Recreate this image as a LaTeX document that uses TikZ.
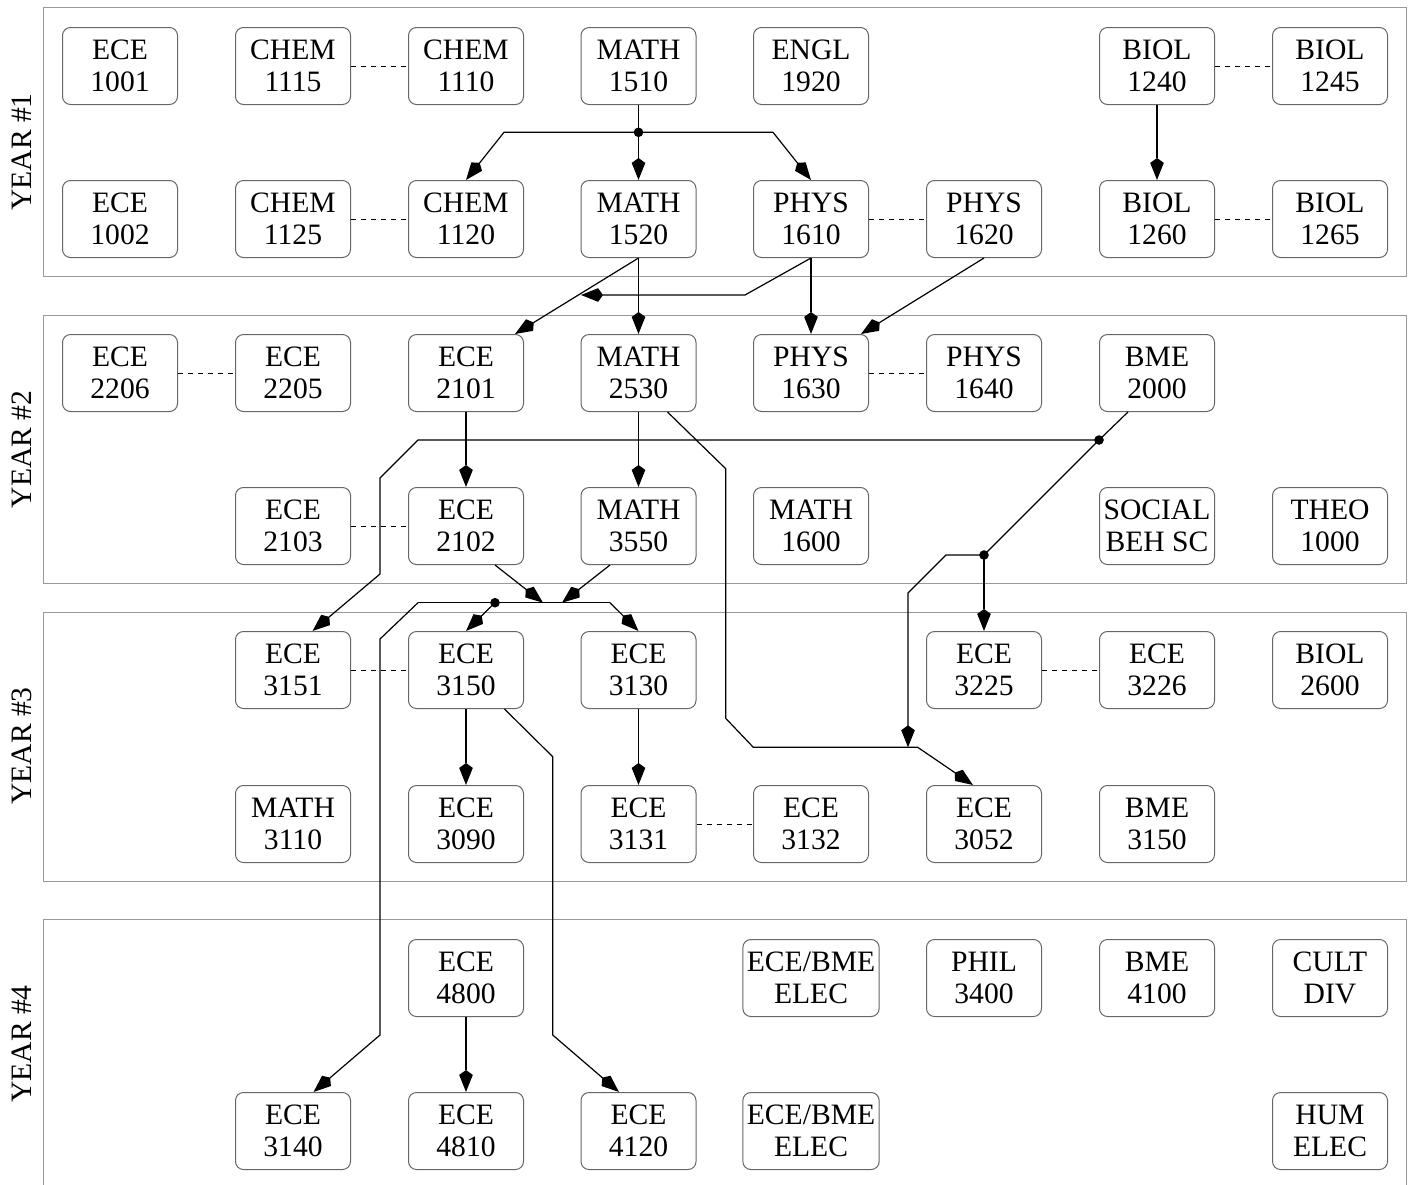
\documentclass[tikz,border=0pt]{standalone}
\usepackage{fontspec}
\setmainfont{Liberation Serif}
\usetikzlibrary{arrows.meta,calc}

\begin{document}
\begin{tikzpicture}[
    x=0.5pt, y=-0.5pt,
    font=\fontsize{14.8}{16.3}\selectfont,
    course/.style={draw=black!60, line width=0.5pt, rounded corners=4pt, align=center,
      minimum width=57.5pt, minimum height=38.5pt, inner sep=2pt},
    yearbox/.style={draw=black!40, line width=0.5pt},
    yearlbl/.style={rotate=90},
    arrow/.style={-{Stealth[length=8.5pt,width=6.5pt,inset=-2.5pt]}, line width=0.6pt},
    wire/.style={line width=0.6pt},
    coreq/.style={dash pattern=on 2.5pt off 2.5pt, line width=0.5pt}
  ]
  \useasboundingbox (0,0) rectangle (1413,1184);

  % Year frames
  \draw[yearbox] (43.3,7.3) rectangle (1406.3,276);
  \draw[yearbox] (43.3,315.3) rectangle (1406.3,583.3);
  \draw[yearbox] (43.3,612) rectangle (1406.3,881.3);
  \draw[yearbox] (43.3,919.3) rectangle (1406.3,1192);

  \node[yearlbl] (lbl1) at (22,152)  {YEAR \#1};
  \node[yearlbl] (lbl2) at (22,449.5) {YEAR \#2};
  \node[yearlbl] (lbl3) at (22,746)  {YEAR \#3};
  \node[yearlbl] (lbl4) at (22,1044) {YEAR \#4};

  % Year 1
  \node[course] (ece1001)  at (120,66)  {ECE\\1001};
  \node[course] (chem1115) at (293,66)  {CHEM\\1115};
  \node[course] (chem1110) at (466,66)  {CHEM\\1110};
  \node[course] (math1510) at (638.5,66) {MATH\\1510};
  \node[course] (engl1920) at (811,66)  {ENGL\\1920};
  \node[course] (biol1240) at (1157,66) {BIOL\\1240};
  \node[course] (biol1245) at (1330,66) {BIOL\\1245};

  \node[course] (ece1002)  at (120,219)  {ECE\\1002};
  \node[course] (chem1125) at (293,219)  {CHEM\\1125};
  \node[course] (chem1120) at (466,219)  {CHEM\\1120};
  \node[course] (math1520) at (638.5,219) {MATH\\1520};
  \node[course] (phys1610) at (811,219)  {PHYS\\1610};
  \node[course] (phys1620) at (984,219)  {PHYS\\1620};
  \node[course] (biol1260) at (1157,219) {BIOL\\1260};
  \node[course] (biol1265) at (1330,219) {BIOL\\1265};

  % Year 2
  \node[course] (ece2206)  at (120,373)  {ECE\\2206};
  \node[course] (ece2205)  at (293,373)  {ECE\\2205};
  \node[course] (ece2101)  at (466,373)  {ECE\\2101};
  \node[course] (math2530) at (638.5,373) {MATH\\2530};
  \node[course] (phys1630) at (811,373)  {PHYS\\1630};
  \node[course] (phys1640) at (984,373)  {PHYS\\1640};
  \node[course] (bme2000)  at (1157,373) {BME\\2000};

  \node[course] (ece2103)  at (293,526)  {ECE\\2103};
  \node[course] (ece2102)  at (466,526)  {ECE\\2102};
  \node[course] (math3550) at (638.5,526) {MATH\\3550};
  \node[course] (math1600) at (811,526)  {MATH\\1600};
  \node[course] (socbeh)   at (1157,526) {SOCIAL\\BEH SC};
  \node[course] (theo1000) at (1330,526) {THEO\\1000};

  % Year 3
  \node[course] (ece3151)  at (293,670)  {ECE\\3151};
  \node[course] (ece3150)  at (466,670)  {ECE\\3150};
  \node[course] (ece3130)  at (638.5,670) {ECE\\3130};
  \node[course] (ece3225)  at (984,670)  {ECE\\3225};
  \node[course] (ece3226)  at (1157,670) {ECE\\3226};
  \node[course] (biol2600) at (1330,670) {BIOL\\2600};

  \node[course] (math3110) at (293,824)  {MATH\\3110};
  \node[course] (ece3090)  at (466,824)  {ECE\\3090};
  \node[course] (ece3131)  at (638.5,824) {ECE\\3131};
  \node[course] (ece3132)  at (811,824)  {ECE\\3132};
  \node[course] (ece3052)  at (984,824)  {ECE\\3052};
  \node[course] (bme3150)  at (1157,824) {BME\\3150};

  % Year 4
  \node[course] (ece4800)  at (466,978)  {ECE\\4800};
  \node[course] (elecA)    at (811,978)  {ECE/BME\\ELEC};
  \node[course] (phil3400) at (984,978)  {PHIL\\3400};
  \node[course] (bme4100)  at (1157,978) {BME\\4100};
  \node[course] (cultdiv)  at (1330,978) {CULT\\DIV};

  \node[course] (ece3140)  at (293,1131)  {ECE\\3140};
  \node[course] (ece4810)  at (466,1131)  {ECE\\4810};
  \node[course] (ece4120)  at (638.5,1131) {ECE\\4120};
  \node[course] (elecB)    at (811,1131)  {ECE/BME\\ELEC};
  \node[course] (humelec)  at (1330,1131) {HUM\\ELEC};

  % Co-requisites
  \draw[coreq] (chem1115) -- (chem1110);
  \draw[coreq] (chem1125) -- (chem1120);
  \draw[coreq] (biol1240) -- (biol1245);
  \draw[coreq] (biol1260) -- (biol1265);
  \draw[coreq] (phys1610) -- (phys1620);
  \draw[coreq] (ece2206) -- (ece2205);
  \draw[coreq] (phys1630) -- (phys1640);
  \draw[coreq] (ece2103) -- (ece2102);
  \draw[coreq] (ece3151) -- (ece3150);
  \draw[coreq] (ece3225) -- (ece3226);
  \draw[coreq] (ece3131) -- (ece3132);

  % Junctions and merge points
  \coordinate (j1) at (638.5,132.3);
  \coordinate (j2) at (1099,440);
  \coordinate (j3) at (984,555);
  \coordinate (j4) at (495,602.7);
  \coordinate (m1) at (581,295);
  \coordinate (m3) at (908,747.3);
  \coordinate (m4) at (543,602.7);
  \coordinate (m5) at (562,602.7);
  \coordinate (bl) at (418,602.7);
  \coordinate (br) at (610,602.7);

  % Prerequisites, year 1
  \draw[wire] (math1510) -- (j1);
  \draw[arrow] (j1) -- (math1520);
  \draw[arrow] (j1) -- (504,132.3) -- (chem1120.north);
  \draw[arrow] (j1) -- (773,132.3) -- (phys1610.north);
  \draw[arrow] (biol1240) -- (biol1260);

  % Year 1 to year 2
  \draw[arrow] (math1520) -- (math2530);
  \draw[arrow] (math1520.south) -- ($(ece2101.north)+(49,0)$);
  \draw[arrow] (phys1610.south) -- (745,295) -- (m1);
  \draw[arrow] (phys1610) -- (phys1630);
  \draw[arrow] (phys1620.south) -- ($(phys1630.north)+(50,0)$);

  % Year 2
  \draw[arrow] (ece2101) -- (ece2102);
  \draw[arrow] (math2530) -- (math3550);
  \draw[wire] ($(bme2000.south)+(-29,0)$) -- (j2) -- (j3);
  \draw[arrow] (j2) -- (418,440) -- (380,478) -- (380,574) -- ($(ece3151.north)+(19.5,0)$);
  \draw[arrow] (j3) -- (ece3225);
  \draw[arrow] (j3) -- (946,555) -- (908,593) -- (m3);
  \draw[arrow] ($(math2530.south)+(29,0)$) -- (725.7,468.7) -- (725.7,718.3)
    -- (753.3,747.3) -- (917.7,747.3) -- ($(ece3052.north)+(-11,0)$);

  % Year 2 to year 3
  \draw[arrow] ($(ece2102.south)+(29,0)$) -- (m4);
  \draw[arrow] ($(math3550.south)+(-28.5,0)$) -- (m5);
  \draw[wire] (bl) -- (br);
  \draw[arrow] (j4) -- (ece3150.north);
  \draw[arrow] (br) -- (ece3130.north);
  \draw[arrow] (bl) -- (380,639) -- (380,1035) -- ($(ece3140.north)+(20.5,0)$);

  % Year 3 and year 4
  \draw[arrow] (ece3150) -- (ece3090);
  \draw[arrow] (ece3130) -- (ece3131);
  \draw[arrow] ($(ece3150.south)+(38.5,0)$) -- (552.7,756.7) -- (552.7,1035)
    -- ($(ece4120.north)+(-19.5,0)$);
  \draw[arrow] (ece4800) -- (ece4810);

  \foreach \j in {j1,j2,j3,j4}
    \fill (\j) circle (2.4pt);
\end{tikzpicture}
\end{document}
